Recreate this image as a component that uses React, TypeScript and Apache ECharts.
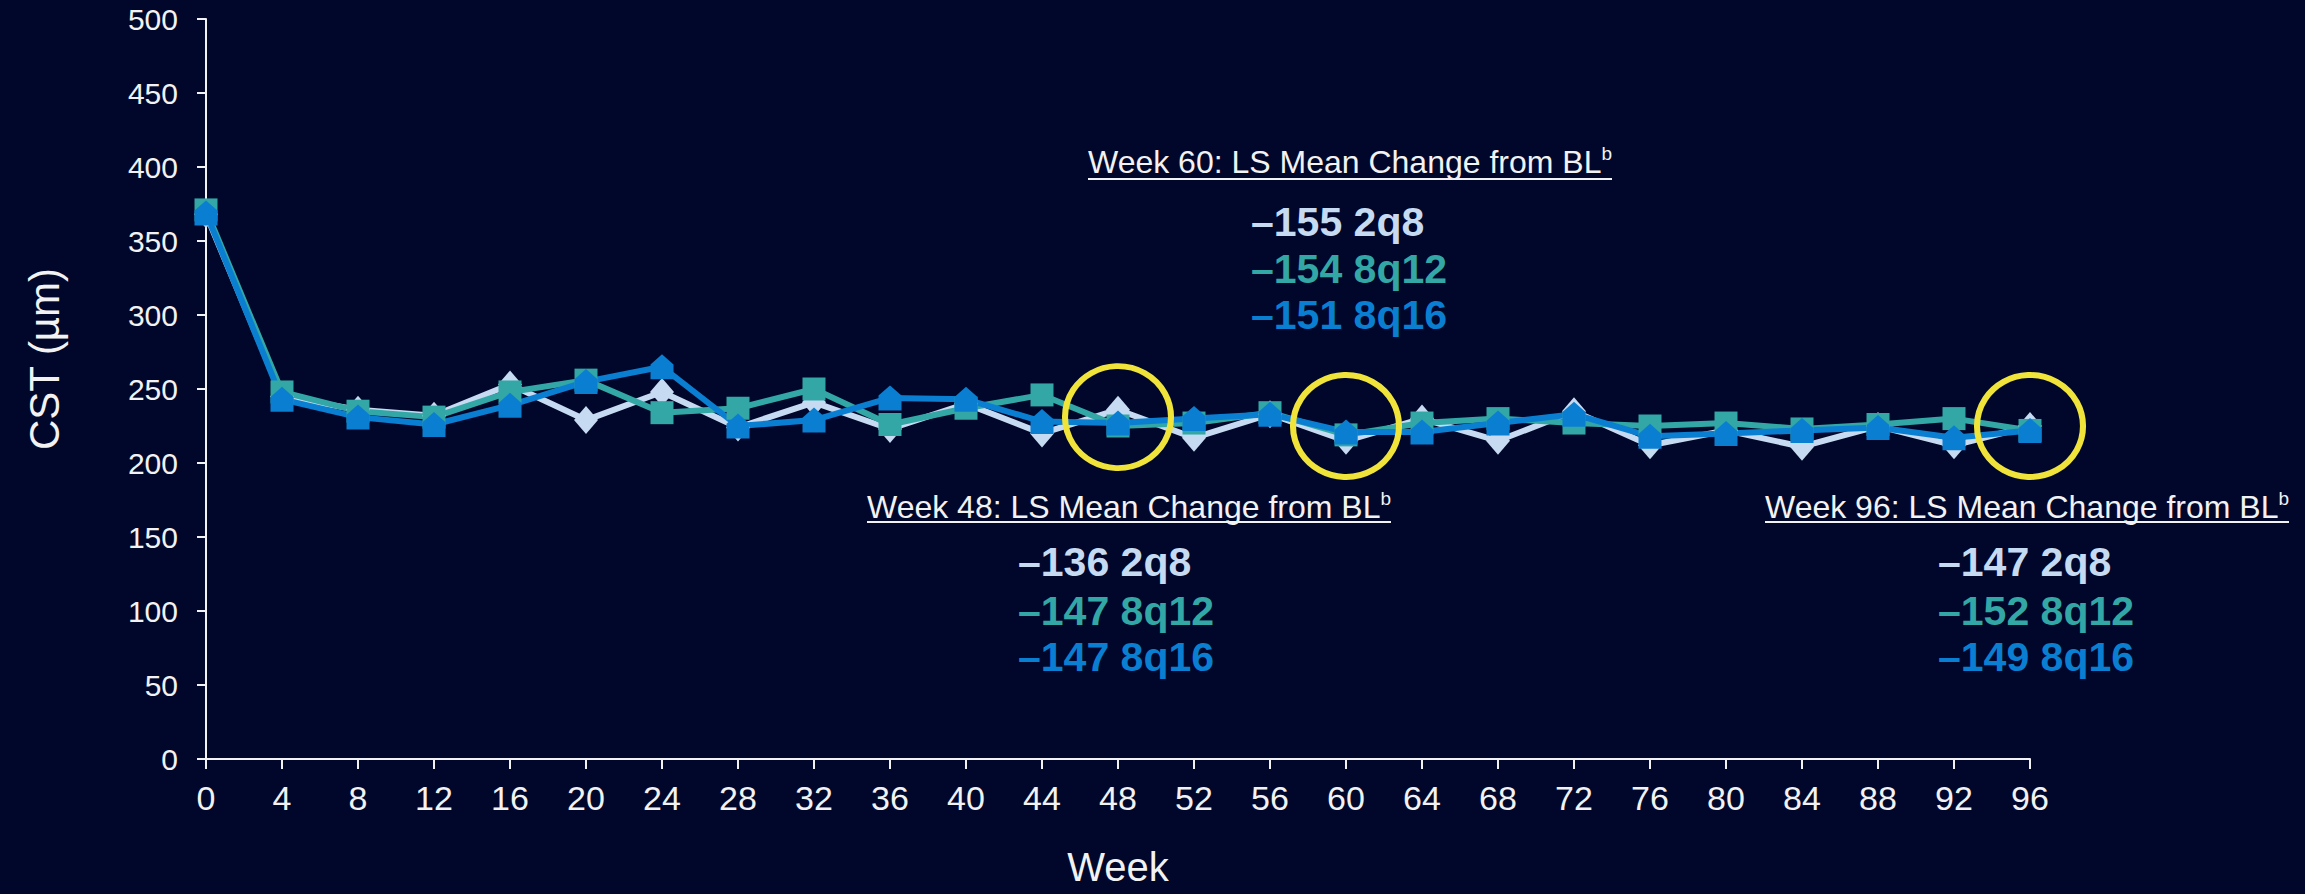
import React, { useEffect, useRef } from "react";
import * as echarts from "echarts";

const weeks = [0, 4, 8, 12, 16, 20, 24, 28, 32, 36, 40, 44, 48, 52, 56, 60, 64, 68, 72, 76, 80, 84, 88, 92, 96];
const yTicks = { min: 0, max: 500, interval: 50 };
const s2q8 = [368, 245, 236, 232, 253, 229, 248, 224, 241, 223, 240, 220, 236, 217, 233, 215, 230, 215, 235, 212, 222, 211, 225, 212, 225];
const s8q12 = [371, 248, 235, 231, 248, 256, 234, 237, 250, 226, 237, 246, 225, 227, 234, 219, 227, 230, 227, 225, 227, 223, 226, 230, 222];
const s8q16 = [369, 243, 231, 226, 239, 255, 265, 225, 229, 244, 243, 228, 227, 230, 233, 221, 221, 227, 233, 218, 220, 222, 224, 217, 222];
const circleCenters = [
  [48, 231],
  [60, 225],
  [96, 225],
];

const blocks = [
  { title: "Week 48: LS Mean Change from BL", lines: ["–136 2q8", "–147 8q12", "–147 8q16"] },
  { title: "Week 60: LS Mean Change from BL", lines: ["–155 2q8", "–154 8q12", "–151 8q16"] },
  { title: "Week 96: LS Mean Change from BL", lines: ["–147 2q8", "–152 8q12", "–149 8q16"] },
];

const C2Q8 = "#c6dbf1";
const C8Q12 = "#33a7a5";
const C8Q16 = "#0a7fd2";
const FONT = "Liberation Sans, Arial, sans-serif";
const HOUSE = "path://M10,0 L20,9 L20,22 L0,22 L0,9 Z";

// layout of the annotation blocks (pixels)
const blockLayout = [
  { tx: 867, ty: 507, uw: 524, uy: 522, nx: 1018, ny: [562, 611, 657] },
  { tx: 1088, ty: 162, uw: 524, uy: 179, nx: 1251, ny: [222, 269, 315] },
  { tx: 1765, ty: 507, uw: 524, uy: 522, nx: 1938, ny: [562, 611, 657] },
];
const lineColors = [C2Q8, C8Q12, C8Q16];

export default function App() {
  const ref = useRef<HTMLDivElement>(null);
  useEffect(() => {
    document.body.style.margin = "0";
    const chart = echarts.init(ref.current!, null, { renderer: "svg" });
    const graphic: any[] = [];
    blocks.forEach((b, i) => {
      const L = blockLayout[i];
      graphic.push({
        type: "text",
        x: L.tx,
        y: L.ty,
        style: {
          text: "{t|" + b.title + "}{s|b}",
          fill: "#f2f2f2",
          textAlign: "left",
          textVerticalAlign: "middle",
          rich: {
            t: { fontSize: 32, fontFamily: FONT, fill: "#f2f2f2", lineHeight: 36 },
            s: { fontSize: 19, fontFamily: FONT, fill: "#f2f2f2", verticalAlign: "top", lineHeight: 36 },
          },
        },
      });
      graphic.push({
        type: "line",
        shape: { x1: L.tx, y1: L.uy, x2: L.tx + L.uw, y2: L.uy },
        style: { stroke: "#f2f2f2", lineWidth: 2 },
      });
      b.lines.forEach((t, j) => {
        graphic.push({
          type: "text",
          x: L.nx,
          y: L.ny[j],
          style: {
            text: t,
            fill: lineColors[j],
            font: "bold 41px " + FONT,
            textAlign: "left",
            textVerticalAlign: "middle",
          },
        });
      });
    });
    graphic.push({
      type: "text",
      x: 44,
      y: 359,
      rotation: Math.PI / 2,
      style: {
        text: "CST (µm)",
        fill: "#f2f2f2",
        font: "42px " + FONT,
        textAlign: "center",
        textVerticalAlign: "middle",
      },
    });

    const lineSeries = (name: string, data: number[], color: string, symbol: string, size: any, width: number) => ({
      name,
      type: "line",
      data: weeks.map((w, i) => [w, data[i]]),
      symbol,
      symbolSize: size,
      lineStyle: { color, width },
      itemStyle: { color, opacity: 1 },
      z: 3,
    });

    chart.setOption({
      backgroundColor: "#00072b",
      animation: false,
      grid: { left: 206, right: 275, top: 19, bottom: 135 },
      xAxis: {
        type: "value",
        min: 0,
        max: 96,
        interval: 4,
        name: "Week",
        nameLocation: "middle",
        nameGap: 88,
        nameTextStyle: { color: "#f2f2f2", fontSize: 40, fontFamily: FONT },
        axisLine: { lineStyle: { color: "#f2f2f2", width: 2 } },
        axisTick: { show: true, length: 10, lineStyle: { color: "#f2f2f2", width: 2 } },
        axisLabel: { color: "#f2f2f2", fontSize: 34, fontFamily: FONT, margin: 22 },
        splitLine: { show: false },
      },
      yAxis: {
        type: "value",
        min: yTicks.min,
        max: yTicks.max,
        interval: yTicks.interval,
        axisLine: { show: true, lineStyle: { color: "#f2f2f2", width: 2 } },
        axisTick: { show: true, length: 9, lineStyle: { color: "#f2f2f2", width: 2 } },
        axisLabel: { color: "#f2f2f2", fontSize: 30, fontFamily: FONT, margin: 28 },
        splitLine: { show: false },
      },
      series: [
        lineSeries("2q8", s2q8, C2Q8, "diamond", [24, 28], 6),
        lineSeries("8q12", s8q12, C8Q12, "rect", [23, 23], 6),
        lineSeries("8q16", s8q16, C8Q16, HOUSE, [23, 25], 6),
        {
          name: "highlight",
          type: "scatter",
          data: circleCenters,
          symbol: "circle",
          symbolSize: [106, 102],
          itemStyle: { color: "rgba(0,0,0,0)", borderColor: "#f0e43a", borderWidth: 6, opacity: 1 },
          z: 5,
          silent: true,
        },
      ],
      graphic,
    });
    return () => chart.dispose();
  }, []);
  return <div ref={ref} style={{ width: 2305, height: 894 }} />;
}
